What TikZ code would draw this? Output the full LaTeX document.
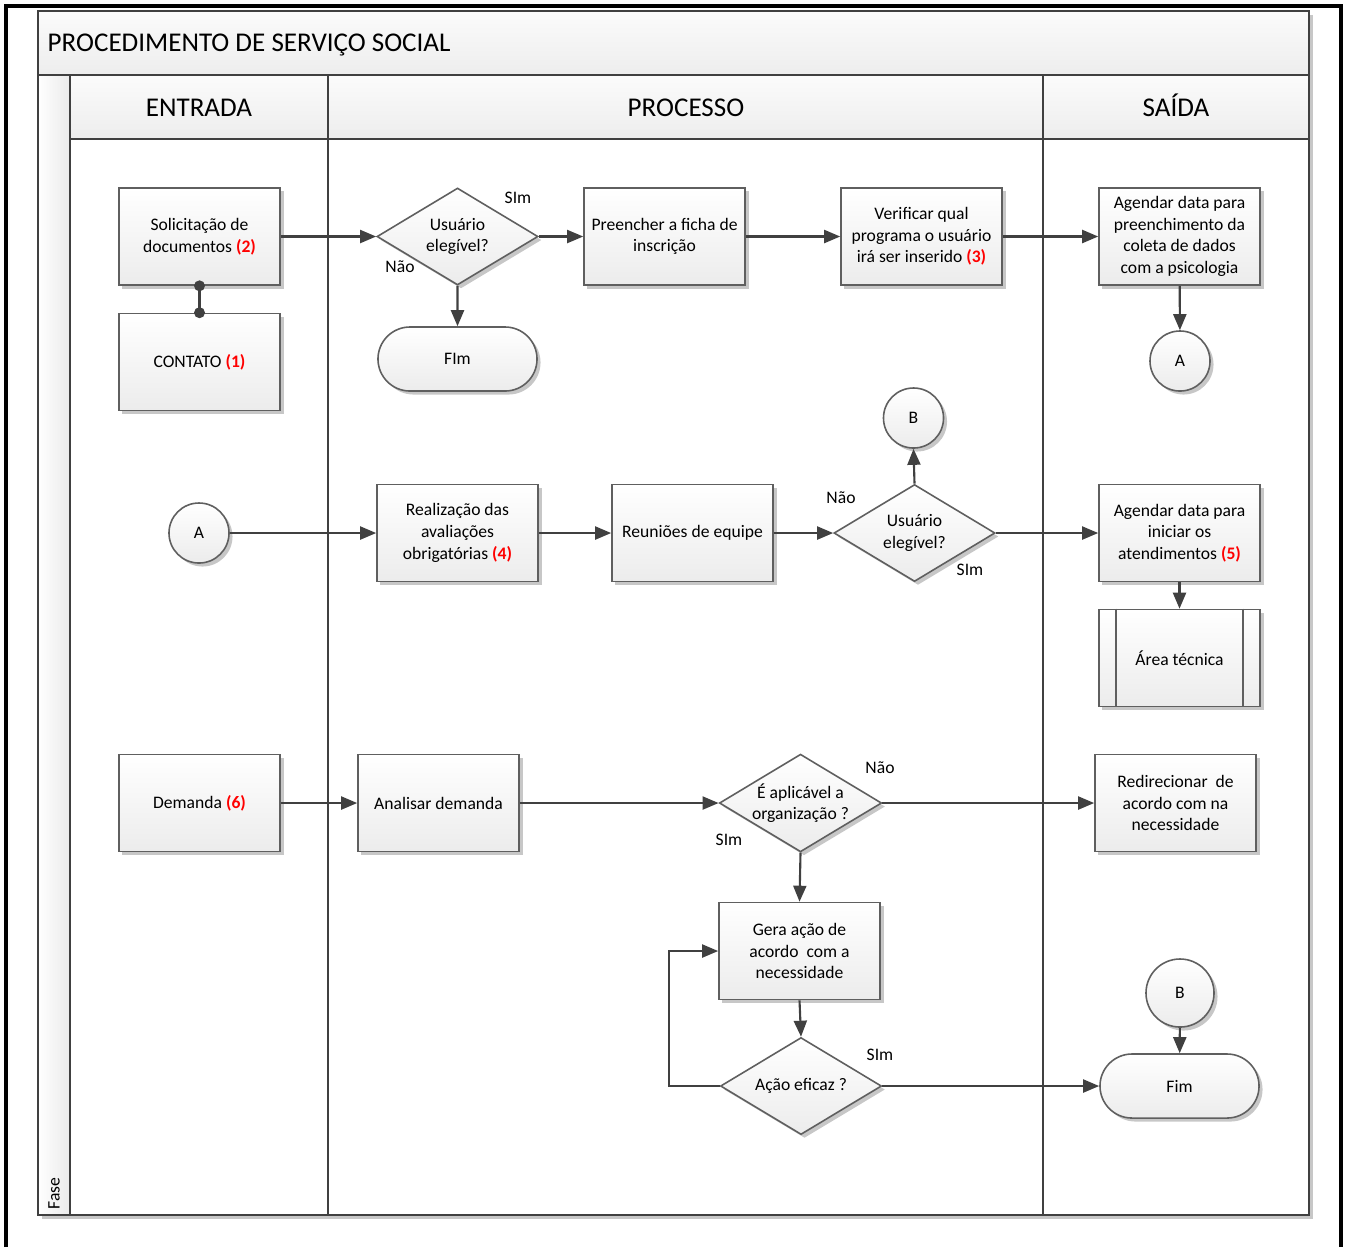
\documentclass[tikz,border=0pt]{standalone}
\usepackage{fontspec}
\setmainfont{Carlito}
\usepackage{tikz}
\usetikzlibrary{arrows.meta}
\usetikzlibrary{shapes.geometric}
\usetikzlibrary{shapes.misc}
\usetikzlibrary{shadows}
\definecolor{linegray}{HTML}{404040}
\definecolor{boxgray}{HTML}{5F5F5F}
\definecolor{numred}{HTML}{FF0000}
\newcommand{\boxwidth}{1.61}
\newcommand{\boxheight}{0.97}
\newcommand{\bodyfont}{\fontsize{5pt}{6.15pt}\selectfont}
\newcommand{\headfont}{\fontsize{7.7pt}{9pt}\selectfont}
\newcommand{\refnum}[1]{\textcolor{numred}{\textbf{(#1)}}}
\tikzset{%
  softshadow/.style={drop shadow={shadow xshift=0.035cm,shadow yshift=-0.035cm,opacity=0.22,fill=black}},
  shapefill/.style={draw=boxgray, line width=0.45pt, top color=white, bottom color=gray!15, softshadow},
  taskbox/.style={shapefill, rectangle, minimum width=\boxwidth cm, minimum height=\boxheight cm, align=center, inner sep=1pt, font=\bodyfont},
  decision/.style={shapefill, diamond, aspect=1.66, minimum width=\boxwidth cm, minimum height=\boxheight cm, align=center, inner sep=0pt, font=\bodyfont},
  terminal/.style={shapefill, rounded rectangle, minimum width=1.66cm, minimum height=0.64cm, inner sep=1pt, font=\bodyfont},
  linkcircle/.style={shapefill, circle, minimum size=0.6cm, inner sep=0pt, font=\bodyfont},
  answer/.style={inner sep=0pt, font=\bodyfont},
  heading/.style={anchor=base, inner sep=0pt, font=\headfont},
  flowline/.style={draw=linegray, line width=0.6pt, -{Triangle[length=1.6mm,width=1.3mm]}},
  lanepen/.style={draw=linegray, line width=0.6pt}
}
\begin{document}
\begin{tikzpicture}[x=0.01cm,y=-0.01cm]
\useasboundingbox (0,0) rectangle (1346,1247);

% outer frame
\draw[line width=0.9pt] (6,1247) -- (6,6) -- (1341,6) -- (1341,1247);

% pool and lanes
\draw[lanepen, fill=white, softshadow] (38,11) rectangle (1309,1215);
\draw[lanepen, top color=gray!3, bottom color=gray!14] (38,11) rectangle (1309,75);
\draw[lanepen, left color=white, right color=gray!16] (38,75) rectangle (70,1215);
\draw[lanepen, top color=gray!3, bottom color=gray!14] (70,75) rectangle (1309,139);
\draw[lanepen] (328,75) -- (328,1215);
\draw[lanepen] (1043,75) -- (1043,1215);
\draw[lanepen] (38,11) rectangle (1309,1215);

\node[heading, anchor=base west] (title) at (47,51) {PROCEDIMENTO DE SERVIÇO SOCIAL};
\node[heading] (entrada) at (199,116) {ENTRADA};
\node[heading] (processo) at (686,116) {PROCESSO};
\node[heading] (saida) at (1176,116) {SAÍDA};
\node[rotate=90, anchor=west, inner sep=0pt, font=\bodyfont] (fase) at (54,1210) {Fase};

% first row
\node[taskbox] (sol) at (199.5,236.5) {Solicitação de\\documentos \refnum{2}};
\node[taskbox] (cont) at (199.5,362) {CONTATO \refnum{1}};
\node[decision] (dec1) at (457.5,236.5) {Usuário\\elegível?};
\node[terminal] (fim1) at (457.5,359) {FIm};
\node[taskbox] (pre) at (664.5,236.5) {Preencher a ficha de\\inscrição};
\node[taskbox] (ver) at (921.5,236.5) {Verificar qual\\programa o usuário\\irá ser inserido \refnum{3}};
\node[taskbox] (age1) at (1179.5,236.5) {Agendar data para\\preenchimento da\\coleta de dados\\com a psicologia};
\node[linkcircle] (conA1) at (1180,361) {A};

% second row
\node[linkcircle] (conA2) at (199,533) {A};
\node[taskbox] (real) at (457.5,533) {Realização das\\avaliações\\obrigatórias \refnum{4}};
\node[taskbox] (reun) at (692.5,533) {Reuniões de equipe};
\node[decision] (dec2) at (914.5,533) {Usuário\\elegível?};
\node[linkcircle] (conB1) at (913.5,418) {B};
\node[taskbox] (age2) at (1179.5,533) {Agendar data para\\iniciar os\\atendimentos \refnum{5}};
\node[taskbox] (area) at (1179.5,658) {Área técnica};
\draw[draw=boxgray, line width=0.45pt] ([xshift=0.18cm]area.north west) -- ([xshift=0.18cm]area.south west);
\draw[draw=boxgray, line width=0.45pt] ([xshift=-0.18cm]area.north east) -- ([xshift=-0.18cm]area.south east);

% third row
\node[taskbox] (dem) at (199.5,803) {Demanda \refnum{6}};
\node[taskbox] (ana) at (438.5,803) {Analisar demanda};
\node[decision] (dec3) at (800.5,803) {É aplicável a\\organização ?};
\node[taskbox] (redir) at (1175.5,803) {Redirecionar\ \ de\\acordo com na\\necessidade};
\node[taskbox] (gera) at (799.5,951) {Gera ação de\\acordo\ \ com a\\necessidade};
\node[decision] (dec4) at (801,1086) {Ação eficaz ?};
\node[linkcircle, minimum size=0.68cm] (conB2) at (1180,993) {B};
\node[terminal] (fim2) at (1179.5,1086) {Fim};

% answers
\node[answer] (sim1) at (518,198) {SIm};
\node[answer] (nao1) at (400,267) {Não};
\node[answer] (nao2) at (841,498) {Não};
\node[answer] (sim2) at (970,570) {SIm};
\node[answer] (nao3) at (880,768) {Não};
\node[answer] (sim3) at (729,840) {SIm};
\node[answer] (sim4) at (880,1055) {SIm};

% connectors
\draw[draw=linegray, line width=0.6pt] (sol.south) -- (cont.north);
\fill[linegray] (sol.south) circle[radius=0.055cm];
\fill[linegray] (cont.north) circle[radius=0.055cm];
\draw[flowline] (sol) -- (dec1);
\draw[flowline] (dec1) -- (pre);
\draw[flowline] (dec1) -- (fim1);
\draw[flowline] (pre) -- (ver);
\draw[flowline] (ver) -- (age1);
\draw[flowline] (age1) -- (conA1);
\draw[flowline] (conA2) -- (real);
\draw[flowline] (real) -- (reun);
\draw[flowline] (reun) -- (dec2);
\draw[flowline] (dec2.north) -- (conB1.south);
\draw[flowline] (dec2) -- (age2);
\draw[flowline] (age2) -- (area);
\draw[flowline] (dem) -- (ana);
\draw[flowline] (ana) -- (dec3);
\draw[flowline] (dec3) -- (redir);
\draw[flowline] (dec3.south) -- (gera.north);
\draw[flowline] (gera.south) -- (dec4.north);
\draw[flowline] (dec4.west) -- ++(-51,0) |- (gera.west);
\draw[flowline] (dec4) -- (fim2);
\draw[flowline] (conB2) -- (fim2);

\end{tikzpicture}
\end{document}
